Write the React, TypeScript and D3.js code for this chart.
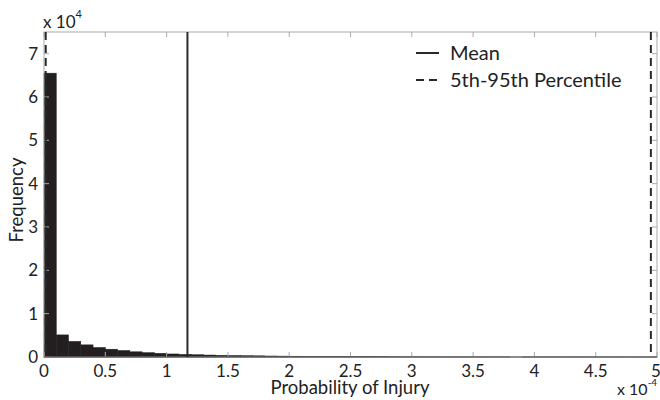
import React from "react";
import * as d3 from "d3";

const binWidth = 0.1e-4;
const binCounts = [
  65500, 5100, 3600, 2800, 2200, 1800, 1500, 1200, 1000, 850,
  700, 600, 520, 450, 400, 350, 300, 270, 230, 200,
  180, 160, 140, 120, 110, 100, 90, 60, 50, 45,
  40, 35, 30, 28, 25, 22, 20, 18, 0, 15,
  14, 12, 10, 9, 8, 7, 6, 5, 4, 3,
];
const xTicks = [0, 0.5e-4, 1e-4, 1.5e-4, 2e-4, 2.5e-4, 3e-4, 3.5e-4, 4e-4, 4.5e-4, 5e-4];
const xTickLabels = ["0", "0.5", "1", "1.5", "2", "2.5", "3", "3.5", "4", "4.5", "5"];
const yTicks = [0, 1e4, 2e4, 3e4, 4e4, 5e4, 6e4, 7e4];
const yTickLabels = ["0", "1", "2", "3", "4", "5", "6", "7"];
const meanValue = 1.17e-4;
const percentiles = [0.014e-4, 4.95e-4];
const legendLabels = ["Mean", "5th-95th Percentile"];

const W = 660, H = 400;
const left = 44, right = 657, top = 32, bottom = 357;
const font = "Lato, 'Open Sans', sans-serif";

export default function App() {
  const x = d3.scaleLinear().domain([0, 5e-4]).range([left, right]);
  const y = d3.scaleLinear().domain([0, 7.5e4]).range([bottom, top]);
  const tickColor = "#aaa";
  return (
    <svg width={W} height={H} style={{ position: "absolute", left: 0, top: 0, background: "#fff" }} fontFamily={font}>
      {binCounts.map((c, i) => {
        const x0 = x(i * binWidth), x1 = x((i + 1) * binWidth);
        return c > 0 ? (
          <rect key={i} x={x0} y={y(c)} width={x1 - x0} height={Math.max(bottom - y(c), 0)} fill="#231f20" stroke="#231f20" strokeWidth={0.5} />
        ) : null;
      })}
      <rect x={left} y={top} width={right - left} height={bottom - top} fill="none" stroke={tickColor} strokeWidth={1} />
      {xTicks.map((t, i) => (
        <g key={"xt" + i}>
          <line x1={x(t)} x2={x(t)} y1={bottom} y2={bottom - 5} stroke={tickColor} />
          <line x1={x(t)} x2={x(t)} y1={top} y2={top + 5} stroke={tickColor} />
          <text x={i === xTicks.length - 1 ? x(t) - 1 : x(t)} y={377} fontSize={17} textAnchor="middle" fill="#222">{xTickLabels[i]}</text>
        </g>
      ))}
      {yTicks.map((t, i) => (
        <g key={"yt" + i}>
          <line x1={left} x2={left + 5} y1={y(t)} y2={y(t)} stroke={tickColor} />
          <line x1={right} x2={right - 5} y1={y(t)} y2={y(t)} stroke={tickColor} />
          <text x={38} y={y(t) + 6} fontSize={17} textAnchor="end" fill="#222">{yTickLabels[i]}</text>
        </g>
      ))}
      <line x1={left} x2={right} y1={bottom} y2={bottom} stroke="#444" strokeWidth={1} />
      <line x1={x(meanValue)} x2={x(meanValue)} y1={top} y2={bottom} stroke="#2a2a2a" strokeWidth={2} />
      {percentiles.map((p, i) => (
        <line key={"p" + i} x1={x(p)} x2={x(p)} y1={top} y2={bottom} stroke="#2a2a2a" strokeWidth={2} strokeDasharray="8,5" />
      ))}
      <line x1={416} x2={439} y1={53} y2={53} stroke="#2a2a2a" strokeWidth={2} />
      <text x={450} y={60} fontSize={20} fill="#222">{legendLabels[0]}</text>
      <line x1={416} x2={439} y1={80} y2={80} stroke="#2a2a2a" strokeWidth={2} strokeDasharray="8,5" />
      <text x={450} y={87} fontSize={20} fill="#222">{legendLabels[1]}</text>
      <text x={350} y={394} fontSize={18.5} textAnchor="middle" fill="#222">Probability of Injury</text>
      <text transform={`translate(23,${200}) rotate(-90)`} fontSize={18.5} textAnchor="middle" fill="#222">Frequency</text>
      <text x={43} y={28} fontSize={17} fill="#222">x 10<tspan dy={-10} fontSize={11}>4</tspan></text>
      <text x={617} y={395} fontSize={16} fill="#222">x 10<tspan dy={-9} fontSize={10}>-4</tspan></text>
    </svg>
  );
}
